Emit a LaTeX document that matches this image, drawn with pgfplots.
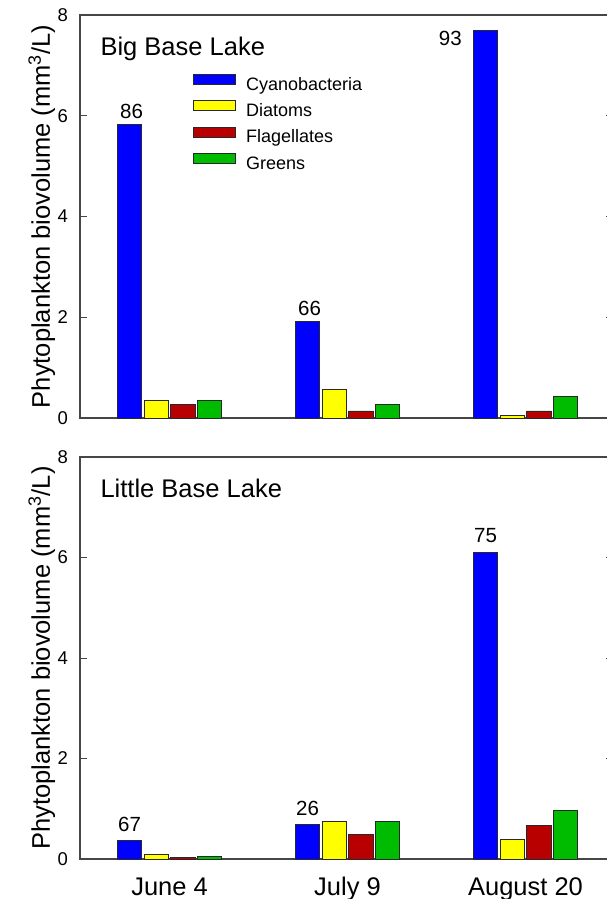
\documentclass[border=0pt]{standalone}
\usepackage{fontspec}
\setmainfont{Liberation Sans}
\usepackage{pgfplots}
\pgfplotsset{compat=1.18}
\definecolor{cyanob}{RGB}{0,0,255}
\definecolor{diat}{RGB}{255,255,0}
\definecolor{flag}{RGB}{185,0,0}
\definecolor{grn}{RGB}{0,188,0}
\definecolor{edge}{RGB}{40,40,40}
\definecolor{axl}{RGB}{70,70,70}
\pgfplotsset{
  panel/.style={
    scale only axis, width=532pt,
    xmin=-0.503, xmax=2.4858, ymin=0, ymax=8,
    ytick={0,2,4,6,8}, xtick={0,1,2},
    axis line style={axl, line width=1.1pt},
    tick style={axl, line width=1pt},
    xtick style={draw=none},
    tick align=inside,
    major tick length=6.5pt,
    yticklabel style={font=\fontsize{18.5}{20}\selectfont, inner sep=0pt, xshift=-12pt},
    /pgf/number format/assume math mode=true,
    every axis y label/.style={at={(axis description cs:-0.0564,0.5)}, rotate=90, anchor=base, font=\fontsize{25.5}{30}\selectfont},
    ylabel={Phytoplankton biovolume (mm\textsuperscript{3}/L)},
  },
  bars/.style 2 args={ybar, bar width=24.3pt, bar shift=#2, fill=#1, draw=edge, line width=0.9pt,
    legend image code/.code={\draw[fill=#1, draw=edge, line width=0.9pt] (0pt,1.3pt) rectangle (42pt,11.3pt);}},
}
\begin{document}
\begin{tikzpicture}
\begin{axis}[panel, at={(80pt,-418pt)}, anchor=south west, height=403pt,
  xticklabels={},
  legend style={at={(0.2124,0.8536)}, anchor=north west, draw=none, fill=none, inner sep=0pt,
    column sep=10pt, row sep=6pt,
    nodes={inner sep=0pt, text height=13pt, text depth=4pt, font=\fontsize{18}{20}\selectfont}},
  legend cell align=left]
\addplot[bars={cyanob}{-40pt}, nodes near coords, point meta=explicit symbolic,
  nodes near coords style={anchor=base, inner sep=0pt, xshift=-38pt, yshift=6pt, font=\fontsize{20.5}{24}\selectfont, text=black}]
  coordinates {(0,5.82)[86] (1,1.91)[66] (2,7.69)[]};
\addlegendentry{Cyanobacteria}
\addplot[bars={diat}{-13.33pt}] coordinates {(0,0.35) (1,0.56) (2,0.05)};
\addlegendentry{Diatoms}
\addplot[bars={flag}{13.33pt}] coordinates {(0,0.26) (1,0.14) (2,0.14)};
\addlegendentry{Flagellates}
\addplot[bars={grn}{40pt}] coordinates {(0,0.34) (1,0.27) (2,0.43)};
\addlegendentry{Greens}
\addplot[draw=none, mark=none, forget plot, point meta=explicit symbolic, nodes near coords,
  nodes near coords style={anchor=east, inner sep=0pt, font=\fontsize{20.5}{24}\selectfont, text=black}]
  coordinates {(1.643,7.54)[93]};
\node[anchor=base west, font=\fontsize{25.5}{30}\selectfont] at (rel axis cs:0.032,0.9007) {Big Base Lake};
\end{axis}
\begin{axis}[panel, at={(80pt,-859pt)}, anchor=south west, height=402pt,
  xticklabels={June 4, July 9, August 20},
  xticklabel style={anchor=base, yshift=-36pt, font=\fontsize{25.5}{30}\selectfont}]
\addplot[bars={cyanob}{-40pt}, nodes near coords, point meta=explicit symbolic,
  nodes near coords style={anchor=base, inner sep=0pt, xshift=-40pt, yshift=9.5pt, font=\fontsize{20.5}{24}\selectfont, text=black}]
  coordinates {(0,0.36)[67] (1,0.68)[26] (2,6.10)[75]};
\addplot[bars={diat}{-13.33pt}] coordinates {(0,0.09) (1,0.74) (2,0.38)};
\addplot[bars={flag}{13.33pt}] coordinates {(0,0.03) (1,0.48) (2,0.66)};
\addplot[bars={grn}{40pt}] coordinates {(0,0.05) (1,0.75) (2,0.96)};
\node[anchor=base west, font=\fontsize{25.5}{30}\selectfont] at (rel axis cs:0.032,0.9005) {Little Base Lake};
\end{axis}
\pgfresetboundingbox
\useasboundingbox (0,0) rectangle (606pt,-899pt);
\end{tikzpicture}
\end{document}
